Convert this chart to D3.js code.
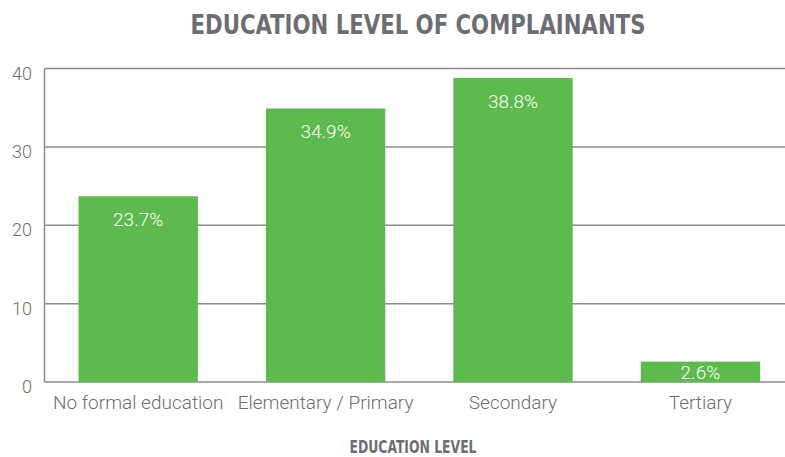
<!DOCTYPE html>
<html>
<head>
<meta charset="utf-8">
<script src="https://cdn.jsdelivr.net/npm/d3@7"></script>
<style>
  body { margin: 0; background: #fff; }
  text { font-family: Roboto, "Noto Sans", sans-serif; }
</style>
</head>
<body>
<svg width="785" height="457"></svg>
<script>
// chart data
var categories = ["No formal education", "Elementary / Primary", "Secondary", "Tertiary"];
var values = [23.7, 34.9, 38.8, 2.6];
var yTicks = [0, 10, 20, 30, 40];

var svg = d3.select("svg");
var width = +svg.attr("width");
var height = +svg.attr("height");
var grey = "#6d6e71";
var green = "#5dba4c";

var plotLeft = 44.5, plotTop = 68.5, plotBottom = 382;

var x = d3.scaleBand()
  .domain(categories)
  .range([plotLeft, plotLeft + 4 * 187.4])
  .paddingInner(0.363)
  .paddingOuter(0.1815);

var y = d3.scaleLinear().domain([0, 40]).range([plotBottom, plotTop]);

// title
svg.append("text")
  .attr("x", 418).attr("y", 34)
  .attr("text-anchor", "middle")
  .attr("fill", grey)
  .style("font-family", "'DejaVu Sans Condensed', 'DejaVu Sans', sans-serif")
  .style("font-weight", "bold")
  .style("font-size", "27px")
  .attr("textLength", 455)
  .attr("lengthAdjust", "spacingAndGlyphs")
  .text("EDUCATION LEVEL OF COMPLAINANTS");

// gridlines
svg.append("g")
  .selectAll("line")
  .data(yTicks)
  .enter()
  .append("line")
  .attr("x1", plotLeft).attr("x2", width)
  .attr("y1", d => y(d)).attr("y2", d => y(d))
  .attr("stroke", "#8c8c8c")
  .attr("stroke-width", 1.5);

// y axis line
svg.append("line")
  .attr("x1", plotLeft).attr("x2", plotLeft)
  .attr("y1", plotTop).attr("y2", plotBottom)
  .attr("stroke", "#8c8c8c")
  .attr("stroke-width", 1.5);

// y tick labels
svg.append("g")
  .selectAll("text")
  .data(yTicks)
  .enter()
  .append("text")
  .attr("x", 32)
  .attr("y", d => y(d) + 11)
  .attr("text-anchor", "end")
  .attr("fill", grey)
  .style("font-size", "18px")
  .style("font-weight", 300)
  .text(d => d);

// bars
var data = categories.map((c, i) => ({ cat: c, val: values[i] }));

svg.append("g")
  .selectAll("rect")
  .data(data)
  .enter()
  .append("rect")
  .attr("x", d => x(d.cat))
  .attr("width", x.bandwidth())
  .attr("y", d => y(d.val))
  .attr("height", d => plotBottom - y(d.val))
  .attr("fill", green);

// value labels inside bars
svg.append("g")
  .selectAll("text")
  .data(data)
  .enter()
  .append("text")
  .attr("x", d => x(d.cat) + x.bandwidth() / 2)
  .attr("y", d => Math.min(y(d.val) + 30, (y(d.val) + plotBottom) / 2 + 7))
  .attr("text-anchor", "middle")
  .attr("fill", "#fff")
  .style("font-size", "19px")
  .style("font-weight", 300)
  .text(d => d.val.toFixed(1) + "%");

// category labels
svg.append("g")
  .selectAll("text")
  .data(categories)
  .enter()
  .append("text")
  .attr("x", d => x(d) + x.bandwidth() / 2)
  .attr("y", 409)
  .attr("text-anchor", "middle")
  .attr("fill", grey)
  .style("font-size", "19px")
  .style("font-weight", 300)
  .text(d => d);

// axis title
svg.append("text")
  .attr("x", 413).attr("y", 453)
  .attr("text-anchor", "middle")
  .attr("fill", grey)
  .style("font-family", "'DejaVu Sans Condensed', 'DejaVu Sans', sans-serif")
  .style("font-weight", "bold")
  .style("font-size", "17px")
  .attr("textLength", 127)
  .attr("lengthAdjust", "spacingAndGlyphs")
  .text("EDUCATION LEVEL");
</script>
</body>
</html>
